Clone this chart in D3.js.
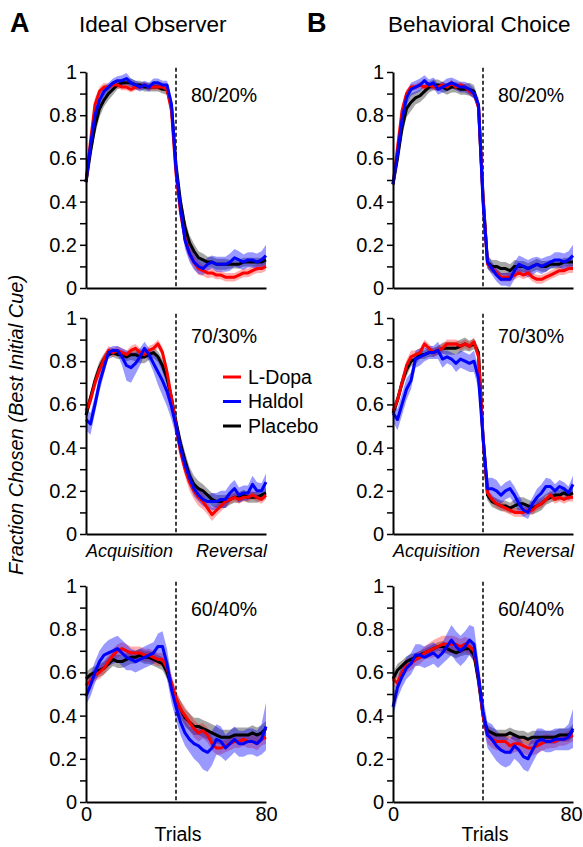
<!DOCTYPE html>
<html>
<head>
<meta charset="utf-8">
<script src="https://cdn.jsdelivr.net/npm/d3@7"></script>
<style>
  body { margin: 0; background: #fff; }
  svg { display: block; font-family: Arial, "Liberation Sans", Helvetica, sans-serif; }
</style>
</head>
<body>
<svg id="chart" width="583" height="847"></svg>
<script>
// trial grid (every 2nd trial), shared by all curves
const trials = [0,2,4,6,8,10,12,14,16,18,20,22,24,26,28,30,32,34,36,38,40,42,44,46,48,50,52,54,56,58,60,62,64,66,68,70,72,74,76,78,80]
const yTicks = [0,0.1,0.2,0.3,0.4,0.5,0.6,0.7,0.8,0.9,1]
const xTickLabels = [0, 80]
const reversalTrial = 40
const groups = ['L-Dopa', 'Haldol', 'Placebo']
const columnTitles = ['Ideal Observer', 'Behavioral Choice']
const columnLetters = ['A', 'B']
const blockLabels = ['80/20%', '70/30%', '60/40%']

// ---- Ideal observer, 80/20
const io80_ldopa   = [0.49,0.68,0.85,0.91,0.93,0.93,0.94,0.94,0.93,0.93,0.92,0.93,0.93,0.94,0.93,0.93,0.93,0.93,0.92,0.82,0.53,0.35,0.23,0.16,0.12,0.09,0.08,0.07,0.07,0.06,0.06,0.05,0.05,0.05,0.06,0.07,0.07,0.08,0.09,0.09,0.10]
const io80_haldol  = [0.49,0.66,0.80,0.87,0.91,0.93,0.95,0.96,0.96,0.97,0.95,0.94,0.93,0.94,0.93,0.95,0.95,0.94,0.94,0.85,0.55,0.37,0.22,0.16,0.12,0.10,0.09,0.11,0.12,0.11,0.11,0.11,0.12,0.14,0.13,0.12,0.13,0.13,0.12,0.13,0.15]
const io80_placebo = [0.49,0.63,0.75,0.83,0.87,0.90,0.92,0.94,0.95,0.95,0.95,0.94,0.94,0.93,0.93,0.93,0.93,0.92,0.92,0.84,0.57,0.40,0.28,0.21,0.17,0.14,0.13,0.12,0.12,0.11,0.11,0.11,0.11,0.11,0.11,0.12,0.12,0.12,0.12,0.12,0.13]
const io80_ldopa_sem   = [0.01,0.03,0.03,0.02,0.02,0.015,0.015,0.015,0.015,0.015,0.015,0.015,0.015,0.015,0.015,0.015,0.015,0.015,0.02,0.03,0.04,0.04,0.035,0.03,0.03,0.03,0.025,0.025,0.02,0.02,0.02,0.02,0.02,0.02,0.02,0.02,0.02,0.02,0.02,0.02,0.02]
const io80_haldol_sem  = [0.01,0.03,0.03,0.03,0.025,0.02,0.02,0.02,0.025,0.025,0.02,0.02,0.02,0.02,0.02,0.02,0.02,0.02,0.02,0.03,0.04,0.04,0.04,0.04,0.035,0.035,0.03,0.03,0.03,0.035,0.035,0.035,0.04,0.04,0.04,0.035,0.035,0.035,0.04,0.04,0.05]
const io80_placebo_sem = [0.01,0.03,0.04,0.04,0.03,0.03,0.025,0.02,0.02,0.02,0.02,0.02,0.02,0.02,0.02,0.02,0.02,0.02,0.025,0.03,0.04,0.04,0.04,0.035,0.035,0.03,0.03,0.025,0.025,0.025,0.025,0.025,0.02,0.02,0.02,0.02,0.02,0.02,0.02,0.02,0.02]

// ---- Behavioral choice, 80/20
const bc80_ldopa   = [0.48,0.65,0.82,0.90,0.93,0.93,0.94,0.93,0.94,0.93,0.93,0.94,0.93,0.95,0.93,0.94,0.93,0.91,0.90,0.84,0.42,0.11,0.09,0.07,0.05,0.05,0.05,0.06,0.07,0.06,0.07,0.05,0.04,0.04,0.05,0.06,0.07,0.08,0.08,0.09,0.09]
const bc80_haldol  = [0.48,0.62,0.78,0.88,0.92,0.93,0.94,0.96,0.94,0.95,0.92,0.93,0.94,0.95,0.94,0.93,0.93,0.92,0.90,0.85,0.40,0.12,0.09,0.06,0.04,0.04,0.04,0.08,0.11,0.10,0.09,0.10,0.11,0.10,0.11,0.12,0.13,0.13,0.12,0.13,0.15]
const bc80_placebo = [0.48,0.60,0.74,0.83,0.86,0.88,0.89,0.91,0.93,0.94,0.94,0.93,0.92,0.93,0.93,0.92,0.92,0.92,0.91,0.84,0.43,0.12,0.10,0.10,0.09,0.09,0.08,0.10,0.10,0.10,0.09,0.10,0.11,0.10,0.10,0.11,0.11,0.11,0.12,0.12,0.12]
const bc80_ldopa_sem   = [0.01,0.03,0.03,0.02,0.015,0.015,0.015,0.015,0.015,0.015,0.015,0.015,0.015,0.015,0.015,0.015,0.015,0.015,0.02,0.03,0.04,0.02,0.02,0.02,0.02,0.02,0.02,0.02,0.02,0.02,0.02,0.02,0.02,0.02,0.02,0.02,0.02,0.02,0.02,0.02,0.02]
const bc80_haldol_sem  = [0.01,0.03,0.04,0.03,0.03,0.03,0.03,0.025,0.025,0.025,0.025,0.025,0.03,0.025,0.025,0.025,0.025,0.025,0.025,0.03,0.04,0.03,0.03,0.03,0.03,0.03,0.035,0.04,0.04,0.04,0.04,0.04,0.035,0.035,0.035,0.03,0.035,0.035,0.04,0.04,0.05]
const bc80_placebo_sem = [0.01,0.03,0.04,0.04,0.04,0.03,0.03,0.03,0.025,0.025,0.025,0.025,0.025,0.025,0.025,0.025,0.025,0.03,0.03,0.03,0.04,0.03,0.03,0.03,0.03,0.03,0.03,0.03,0.025,0.025,0.025,0.025,0.025,0.025,0.025,0.02,0.02,0.02,0.02,0.02,0.02]

// ---- Ideal observer, 70/30
const io70_ldopa   = [0.57,0.62,0.70,0.76,0.81,0.85,0.84,0.85,0.84,0.83,0.85,0.86,0.84,0.83,0.85,0.86,0.88,0.84,0.75,0.63,0.50,0.38,0.30,0.24,0.20,0.17,0.15,0.12,0.09,0.11,0.13,0.15,0.16,0.17,0.16,0.17,0.17,0.18,0.17,0.16,0.18]
const io70_haldol  = [0.53,0.51,0.60,0.70,0.77,0.84,0.85,0.85,0.82,0.78,0.77,0.79,0.82,0.86,0.83,0.79,0.75,0.71,0.66,0.59,0.50,0.40,0.32,0.26,0.21,0.18,0.16,0.15,0.15,0.15,0.16,0.16,0.19,0.21,0.18,0.19,0.19,0.23,0.20,0.20,0.24]
const io70_placebo = [0.55,0.63,0.71,0.77,0.81,0.83,0.84,0.83,0.83,0.82,0.83,0.83,0.82,0.82,0.83,0.84,0.82,0.78,0.72,0.63,0.52,0.42,0.34,0.27,0.23,0.21,0.20,0.18,0.16,0.15,0.15,0.15,0.16,0.17,0.17,0.18,0.17,0.17,0.17,0.18,0.19]
const io70_ldopa_sem   = [0.03,0.03,0.03,0.03,0.025,0.02,0.02,0.02,0.02,0.02,0.02,0.02,0.02,0.02,0.02,0.02,0.02,0.025,0.03,0.03,0.03,0.03,0.035,0.04,0.04,0.04,0.035,0.03,0.03,0.025,0.025,0.025,0.02,0.02,0.02,0.02,0.02,0.02,0.02,0.02,0.02]
const io70_haldol_sem  = [0.05,0.05,0.04,0.04,0.03,0.02,0.02,0.02,0.04,0.07,0.07,0.05,0.04,0.03,0.03,0.04,0.06,0.07,0.07,0.06,0.05,0.04,0.04,0.04,0.035,0.03,0.03,0.03,0.04,0.04,0.04,0.04,0.04,0.04,0.035,0.035,0.035,0.04,0.04,0.035,0.04]
const io70_placebo_sem = [0.03,0.03,0.03,0.03,0.025,0.02,0.02,0.02,0.02,0.02,0.025,0.03,0.03,0.03,0.025,0.025,0.025,0.03,0.03,0.03,0.03,0.035,0.04,0.04,0.04,0.035,0.03,0.03,0.03,0.03,0.03,0.03,0.025,0.025,0.025,0.025,0.025,0.025,0.025,0.025,0.025]

// ---- Behavioral choice, 70/30
const bc70_ldopa   = [0.57,0.62,0.70,0.78,0.82,0.83,0.84,0.88,0.86,0.84,0.85,0.86,0.88,0.88,0.88,0.87,0.88,0.87,0.89,0.82,0.45,0.19,0.16,0.14,0.13,0.12,0.11,0.10,0.10,0.10,0.11,0.11,0.13,0.14,0.16,0.18,0.16,0.17,0.16,0.17,0.17]
const bc70_haldol  = [0.56,0.53,0.60,0.67,0.71,0.81,0.82,0.83,0.84,0.84,0.85,0.81,0.82,0.81,0.79,0.81,0.80,0.79,0.80,0.72,0.45,0.21,0.21,0.20,0.18,0.20,0.21,0.18,0.14,0.11,0.10,0.14,0.17,0.19,0.22,0.22,0.20,0.22,0.21,0.19,0.23]
const bc70_placebo = [0.56,0.62,0.70,0.76,0.80,0.81,0.83,0.83,0.84,0.84,0.85,0.86,0.86,0.86,0.86,0.87,0.88,0.87,0.88,0.84,0.45,0.18,0.15,0.14,0.13,0.13,0.12,0.13,0.14,0.14,0.13,0.12,0.13,0.14,0.16,0.17,0.18,0.18,0.19,0.18,0.19]
const bc70_ldopa_sem   = [0.02,0.02,0.02,0.025,0.03,0.02,0.02,0.02,0.02,0.02,0.02,0.02,0.02,0.02,0.02,0.02,0.02,0.02,0.02,0.025,0.03,0.02,0.02,0.02,0.02,0.02,0.02,0.02,0.02,0.02,0.02,0.02,0.02,0.02,0.02,0.02,0.02,0.02,0.02,0.02,0.02]
const bc70_haldol_sem  = [0.04,0.05,0.05,0.05,0.04,0.04,0.04,0.03,0.03,0.03,0.04,0.04,0.03,0.03,0.04,0.04,0.04,0.04,0.05,0.05,0.05,0.05,0.05,0.05,0.04,0.04,0.04,0.04,0.04,0.03,0.03,0.03,0.04,0.04,0.04,0.035,0.03,0.03,0.03,0.03,0.04]
const bc70_placebo_sem = [0.03,0.03,0.03,0.03,0.025,0.025,0.02,0.02,0.02,0.02,0.02,0.025,0.03,0.03,0.03,0.03,0.03,0.025,0.025,0.025,0.03,0.025,0.025,0.025,0.025,0.025,0.025,0.03,0.03,0.03,0.03,0.03,0.03,0.03,0.025,0.025,0.025,0.025,0.025,0.025,0.025]

// ---- Ideal observer, 60/40
const io60_ldopa   = [0.54,0.56,0.59,0.60,0.62,0.65,0.68,0.70,0.71,0.70,0.69,0.69,0.69,0.68,0.68,0.67,0.66,0.66,0.62,0.55,0.48,0.43,0.40,0.37,0.34,0.32,0.33,0.31,0.27,0.25,0.25,0.26,0.27,0.28,0.28,0.29,0.28,0.28,0.27,0.29,0.30]
const io60_haldol  = [0.49,0.54,0.60,0.65,0.68,0.69,0.70,0.71,0.69,0.67,0.66,0.65,0.66,0.67,0.68,0.69,0.72,0.72,0.64,0.52,0.44,0.37,0.32,0.29,0.27,0.26,0.24,0.23,0.25,0.29,0.28,0.25,0.27,0.29,0.27,0.27,0.28,0.28,0.27,0.29,0.35]
const io60_placebo = [0.57,0.59,0.60,0.61,0.62,0.64,0.66,0.65,0.65,0.66,0.67,0.67,0.68,0.67,0.67,0.66,0.65,0.64,0.60,0.54,0.47,0.43,0.39,0.37,0.35,0.35,0.34,0.33,0.32,0.31,0.30,0.30,0.30,0.31,0.31,0.31,0.31,0.32,0.31,0.32,0.34]
const io60_ldopa_sem   = [0.03,0.03,0.03,0.03,0.03,0.03,0.03,0.03,0.03,0.03,0.03,0.03,0.03,0.03,0.03,0.03,0.03,0.03,0.03,0.04,0.04,0.04,0.04,0.04,0.04,0.04,0.035,0.035,0.03,0.03,0.03,0.03,0.03,0.03,0.03,0.03,0.03,0.03,0.03,0.03,0.03]
const io60_haldol_sem  = [0.04,0.05,0.05,0.05,0.05,0.06,0.06,0.06,0.06,0.06,0.05,0.05,0.05,0.05,0.05,0.05,0.06,0.07,0.07,0.06,0.06,0.06,0.06,0.06,0.07,0.08,0.09,0.09,0.08,0.07,0.07,0.06,0.06,0.06,0.06,0.06,0.06,0.06,0.06,0.07,0.11]
const io60_placebo_sem = [0.03,0.03,0.03,0.03,0.03,0.03,0.03,0.03,0.03,0.03,0.03,0.03,0.03,0.03,0.03,0.03,0.03,0.03,0.03,0.03,0.035,0.04,0.04,0.04,0.04,0.04,0.04,0.04,0.04,0.04,0.035,0.035,0.035,0.035,0.035,0.035,0.035,0.035,0.035,0.035,0.035]

// ---- Behavioral choice, 60/40
const bc60_ldopa   = [0.57,0.55,0.60,0.63,0.64,0.66,0.67,0.69,0.70,0.71,0.72,0.73,0.73,0.73,0.73,0.72,0.73,0.72,0.70,0.58,0.40,0.31,0.29,0.28,0.28,0.28,0.26,0.27,0.27,0.26,0.25,0.25,0.26,0.27,0.28,0.28,0.28,0.29,0.29,0.30,0.31]
const bc60_haldol  = [0.44,0.53,0.58,0.62,0.64,0.68,0.68,0.67,0.68,0.69,0.67,0.69,0.72,0.75,0.72,0.70,0.72,0.75,0.73,0.58,0.42,0.31,0.29,0.26,0.24,0.23,0.23,0.26,0.24,0.21,0.20,0.24,0.28,0.29,0.28,0.28,0.29,0.29,0.29,0.30,0.34]
const bc60_placebo = [0.57,0.61,0.63,0.65,0.66,0.67,0.68,0.69,0.70,0.71,0.72,0.72,0.71,0.70,0.69,0.70,0.71,0.71,0.68,0.56,0.40,0.33,0.32,0.31,0.31,0.31,0.32,0.31,0.30,0.30,0.29,0.30,0.30,0.30,0.30,0.30,0.30,0.31,0.31,0.31,0.33]
const bc60_ldopa_sem   = [0.03,0.03,0.03,0.03,0.03,0.03,0.03,0.03,0.035,0.04,0.04,0.04,0.04,0.04,0.035,0.035,0.035,0.035,0.04,0.04,0.04,0.04,0.04,0.04,0.04,0.04,0.04,0.04,0.035,0.035,0.035,0.035,0.035,0.035,0.035,0.03,0.03,0.03,0.03,0.03,0.03]
const bc60_haldol_sem  = [0.05,0.05,0.05,0.05,0.05,0.05,0.05,0.05,0.05,0.05,0.05,0.05,0.06,0.07,0.07,0.07,0.07,0.07,0.08,0.07,0.06,0.06,0.07,0.07,0.07,0.07,0.06,0.06,0.06,0.06,0.06,0.06,0.06,0.05,0.05,0.05,0.05,0.05,0.05,0.06,0.09]
const bc60_placebo_sem = [0.03,0.03,0.025,0.025,0.025,0.02,0.02,0.02,0.02,0.02,0.02,0.025,0.025,0.025,0.025,0.025,0.03,0.03,0.03,0.03,0.03,0.025,0.025,0.025,0.025,0.025,0.025,0.025,0.03,0.03,0.03,0.03,0.03,0.03,0.03,0.03,0.03,0.03,0.03,0.03,0.03]

const lineColors = { 'L-Dopa': '#ff0000', 'Haldol': '#0000ff', 'Placebo': '#000000' }
const bandColors = { 'L-Dopa': 'rgba(255,0,0,0.32)', 'Haldol': 'rgba(0,0,255,0.4)', 'Placebo': 'rgba(0,0,0,0.35)' }

// panels[row][col]
const panels = [
  [[io80_ldopa, io80_haldol, io80_placebo, io80_ldopa_sem, io80_haldol_sem, io80_placebo_sem],
   [bc80_ldopa, bc80_haldol, bc80_placebo, bc80_ldopa_sem, bc80_haldol_sem, bc80_placebo_sem]],
  [[io70_ldopa, io70_haldol, io70_placebo, io70_ldopa_sem, io70_haldol_sem, io70_placebo_sem],
   [bc70_ldopa, bc70_haldol, bc70_placebo, bc70_ldopa_sem, bc70_haldol_sem, bc70_placebo_sem]],
  [[io60_ldopa, io60_haldol, io60_placebo, io60_ldopa_sem, io60_haldol_sem, io60_placebo_sem],
   [bc60_ldopa, bc60_haldol, bc60_placebo, bc60_ldopa_sem, bc60_haldol_sem, bc60_placebo_sem]]
]

const svg = d3.select('#chart')

const colLeft = [86, 393]
const rowTop = [72, 318, 586]
const plotW = 180
const plotH = 216

const x = d3.scaleLinear().domain([0, 80]).range([0, plotW])
const y = d3.scaleLinear().domain([0, 1]).range([plotH, 0])

// column headers
columnLetters.forEach((letter, c) => {
  svg.append('text')
    .attr('x', [10, 307][c]).attr('y', 32)
    .attr('font-size', 27).attr('font-weight', 'bold')
    .text(letter)
  svg.append('text')
    .attr('x', [79, 388][c]).attr('y', 32)
    .attr('font-size', 22.5)
    .text(columnTitles[c])
})

svg.append('text')
  .attr('transform', 'translate(18,425) rotate(-90)')
  .attr('text-anchor', 'middle')
  .attr('dominant-baseline', 'middle')
  .attr('font-size', 20)
  .attr('font-style', 'italic')
  .text('Fraction Chosen (Best Initial Cue)')

const line = d3.line().x((d) => x(d.t)).y((d) => y(d.v))
const area = d3.area().x((d) => x(d.t)).y0((d) => y(d.v - d.e)).y1((d) => y(d.v + d.e))

panels.forEach((row, r) => {
  row.forEach((p, c) => {
    const g = svg.append('g').attr('transform', `translate(${colLeft[c]},${rowTop[r]})`)

    const series = groups.map((name, i) => ({
      name: name,
      pts: trials.map((t, k) => ({ t: t, v: p[i][k], e: p[i + 3][k] }))
    }))
    // draw order: placebo, L-Dopa, Haldol
    const order = [series[2], series[0], series[1]]

    g.append('g').selectAll('path')
      .data(order)
      .enter()
      .append('path')
      .attr('d', (d) => area(d.pts))
      .attr('fill', (d) => bandColors[d.name])
      .attr('stroke', 'none')

    // reversal marker
    g.append('line')
      .attr('x1', x(reversalTrial)).attr('x2', x(reversalTrial))
      .attr('y1', y(1.02)).attr('y2', y(0))
      .attr('stroke', '#000').attr('stroke-width', 1.5)
      .attr('stroke-dasharray', '4,2.5')

    g.append('g').selectAll('path')
      .data(order)
      .enter()
      .append('path')
      .attr('d', (d) => line(d.pts))
      .attr('fill', 'none')
      .attr('stroke', (d) => lineColors[d.name])
      .attr('stroke-width', 3)
      .attr('stroke-linejoin', 'round')

    // y axis
    const ya = g.append('g')
      .call(d3.axisLeft(y).tickValues(yTicks).tickSize(6).tickPadding(3).tickSizeOuter(0)
        .tickFormat((d) => (Math.round(d * 10) % 2 === 0 ? d3.format('~g')(d) : '')))
    ya.select('.domain').attr('stroke-width', 2)
    ya.selectAll('.tick line').attr('stroke-width', 1.5)
    ya.selectAll('.tick text').attr('font-size', 20).attr('fill', '#000').attr('font-family', null)

    // x axis
    const xa = g.append('g').attr('transform', `translate(0,${plotH})`)
      .call(d3.axisBottom(x).tickValues(r === 2 ? xTickLabels : []).tickSize(0).tickPadding(5).tickSizeOuter(0))
    xa.select('.domain').attr('stroke-width', 2)
    xa.selectAll('.tick text').attr('font-size', 20).attr('fill', '#000').attr('font-family', null)
    // keep the right-hand "80" of column B inside the page edge
    if (c === 1) {
      xa.selectAll('.tick text').filter((d) => d === 80).attr('dx', -2)
    }

    g.append('text')
      .attr('x', 105).attr('y', r === 1 ? 25 : 30)
      .attr('font-size', 19.5)
      .text(blockLabels[r])

    if (r === 1) {
      g.append('text').attr('x', 0).attr('y', plotH + 23)
        .attr('font-size', 18).attr('font-style', 'italic')
        .text('Acquisition')
      g.append('text').attr('x', plotW + 1).attr('y', plotH + 23)
        .attr('text-anchor', 'end')
        .attr('font-size', 18).attr('font-style', 'italic')
        .text('Reversal')
    }
    if (r === 2) {
      g.append('text').attr('x', x(reversalTrial) + 2).attr('y', plotH + 39)
        .attr('text-anchor', 'middle')
        .attr('font-size', 19.5)
        .text('Trials')
    }

    // legend in the middle-left panel
    if (r === 1 && c === 0) {
      const lg = g.append('g').attr('transform', 'translate(137,59)')
      const item = lg.selectAll('g')
        .data(groups)
        .enter()
        .append('g')
        .attr('transform', (d, i) => `translate(0,${i * 24.5})`)
      item.append('line')
        .attr('x1', 0).attr('x2', 18)
        .attr('stroke', (d) => lineColors[d])
        .attr('stroke-width', 3)
      item.append('text')
        .attr('x', 25).attr('dy', '0.35em')
        .attr('font-size', 19.5)
        .text((d) => d)
    }
  })
})
</script>
</body>
</html>
